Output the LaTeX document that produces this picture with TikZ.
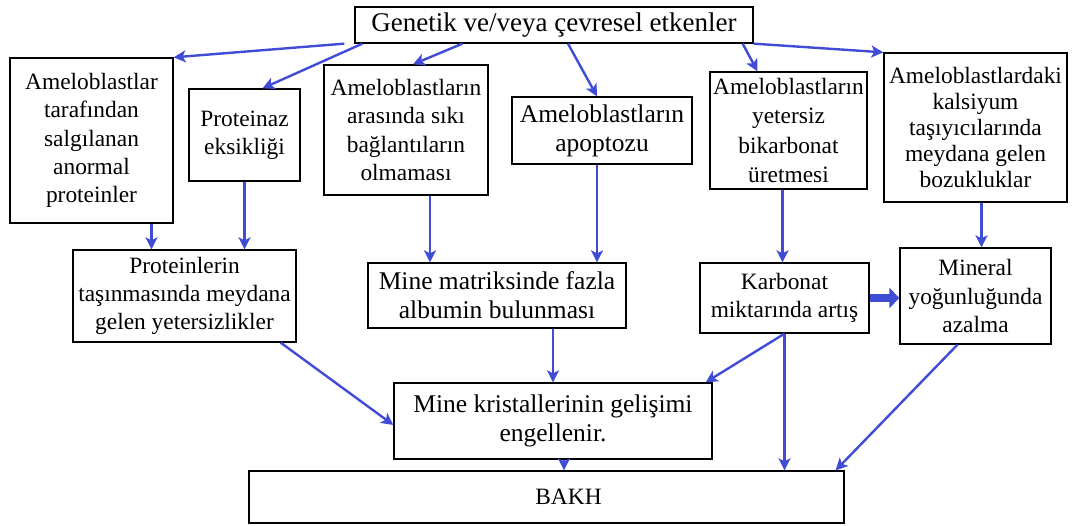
\documentclass[tikz,border=0pt]{standalone}
\usepackage{fontspec}
\setmainfont{Liberation Serif}
\usetikzlibrary{arrows.meta}
\definecolor{arrblue}{RGB}{64,76,214}
\tikzset{
  box/.style={draw,line width=1.3pt,rectangle,align=center,inner sep=0pt,font=\fontsize{23.4}{28.3}\selectfont},
  arr/.style={draw=arrblue,line width=2.4pt,-{Stealth[length=12pt,width=12pt,inset=3pt]}},
  bigarr/.style={draw=arrblue,line width=8pt,-{Triangle[length=10pt,width=20pt]}}
}
\begin{document}
\begin{tikzpicture}[x=1pt,y=-1pt]
  \useasboundingbox (0,0) rectangle (1090,525);
  \node[box,minimum width=398pt,minimum height=36pt,font=\fontsize{27}{30}\selectfont] (cause) at (554,25) {Genetik ve/veya çevresel etkenler};
  \node[box,minimum width=163pt,minimum height=165pt] (abnormal) at (91.5,140.5) {Ameloblastlar\\tarafından\\salgılanan\\anormal\\proteinler};
  \node[box,minimum width=111pt,minimum height=92pt] (proteinase) at (244.5,135) {Proteinaz\\eksikliği};
  \node[box,minimum width=164pt,minimum height=130pt] (junction) at (406,130) {Ameloblastların\\arasında sıkı\\bağlantıların\\olmaması};
  \node[box,minimum width=180pt,minimum height=67pt,font=\fontsize{25.5}{29}\selectfont] (apoptosis) at (602,130.5) {Ameloblastların\\apoptozu};
  \node[box,minimum width=157pt,minimum height=117pt,font=\fontsize{23.4}{29.5}\selectfont] (bicarb) at (788.5,130.5) {Ameloblastların\\yetersiz\\bikarbonat\\üretmesi};
  \node[box,minimum width=183pt,minimum height=149pt,font=\fontsize{23.4}{26}\selectfont] (calcium) at (975.5,127.5) {Ameloblastlardaki\\kalsiyum\\taşıyıcılarında\\meydana gelen\\bozukluklar};
  \node[box,minimum width=223pt,minimum height=92pt] (transport) at (184.5,296) {Proteinlerin\\taşınmasında meydana\\gelen yetersizlikler};
  \node[box,minimum width=258pt,minimum height=65pt,font=\fontsize{25.5}{29}\selectfont] (albumin) at (497,295.5) {Mine matriksinde fazla\\albumin bulunması};
  \node[box,minimum width=169pt,minimum height=70pt] (carbonate) at (784.5,298) {Karbonat\\miktarında artış};
  \node[box,minimum width=151pt,minimum height=96pt] (mineral) at (975.5,296) {Mineral\\yoğunluğunda\\azalma};
  \node[box,minimum width=318pt,minimum height=76pt,font=\fontsize{25.5}{29}\selectfont] (crystal) at (553,421) {Mine kristallerinin gelişimi\\engellenir.};
  \node[box,minimum width=595pt,minimum height=52pt] (bakh) at (546.5,497) {\hspace*{44pt}BAKH};
  \draw[arr] ([xshift=-10pt]cause.south west) -- (abnormal.north east);
  \draw[arr] ([xshift=8pt]cause.south west) -- ([xshift=18pt]proteinase.north);
  \draw[arr] ([xshift=108pt]cause.south west) -- ([xshift=7pt]junction.north);
  \draw[arr] ([xshift=14pt]cause.south) -- ([xshift=-5pt]apoptosis.north);
  \draw[arr] ([xshift=-11pt]cause.south east) -- ([xshift=-31pt]bicarb.north);
  \draw[arr] (cause.south east) -- (calcium.north west);
  \draw[arr] ([xshift=60pt]abnormal.south) -- ([xshift=60pt]abnormal.south |- transport.north);
  \draw[arr] (proteinase.south) -- (proteinase.south |- transport.north);
  \draw[arr] ([xshift=24pt]junction.south) -- ([xshift=24pt]junction.south |- albumin.north);
  \draw[arr] ([xshift=-5pt]apoptosis.south) -- ([xshift=-5pt]apoptosis.south |- albumin.north);
  \draw[arr] ([xshift=-6pt]bicarb.south) -- ([xshift=-6pt]bicarb.south |- carbonate.north);
  \draw[arr] ([xshift=6pt]calcium.south) -- ([xshift=6pt]calcium.south |- mineral.north);
  \draw[bigarr] (carbonate.east) -- (carbonate.east -| mineral.west);
  \draw[arr] ([xshift=-16pt]transport.south east) -- ([yshift=-4pt]crystal.west);
  \draw[arr] (crystal.north |- albumin.south) -- (crystal.north);
  \draw[arr] (carbonate.south) -- ([xshift=-7pt]crystal.north east);
  \draw[arr] (carbonate.south) -- (carbonate.south |- bakh.north);
  \draw[arr] ([xshift=-18pt]mineral.south) -- ([xshift=-9pt]bakh.north east);
  \draw[arr] ([xshift=11pt]crystal.south) -- ([xshift=11pt]crystal.south |- bakh.north);
\end{tikzpicture}
\end{document}
